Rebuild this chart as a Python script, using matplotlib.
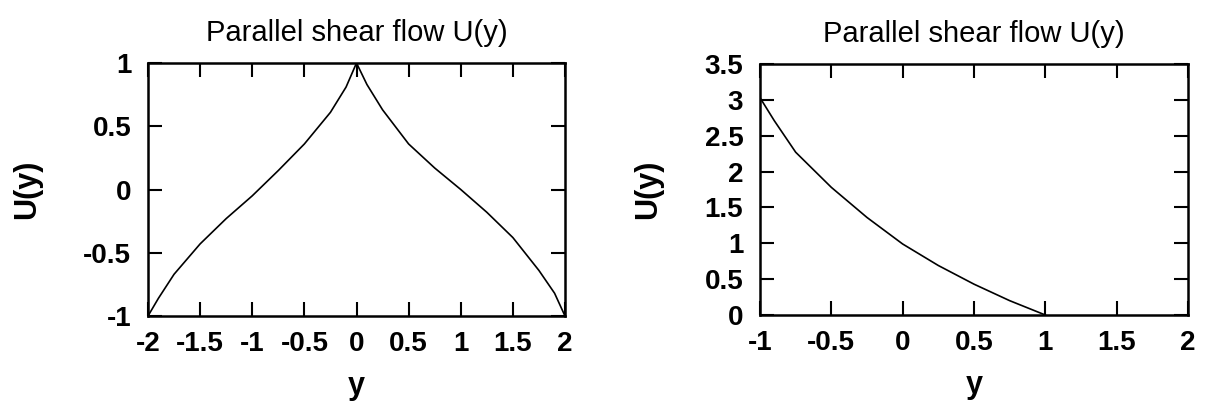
import matplotlib
matplotlib.use("Agg")
import matplotlib.pyplot as plt

plt.rcParams['font.family'] = ['Liberation Sans', 'DejaVu Sans']

# Left panel: symmetric shear profile
y_left = [-2.0, -1.9, -1.75, -1.5, -1.25, -1.0, -0.75, -0.5, -0.25, -0.1, 0.0,
          0.1, 0.25, 0.5, 0.75, 1.0, 1.25, 1.5, 1.75, 1.9, 2.0]
u_left = [-1.0, -0.86, -0.67, -0.43, -0.23, -0.05, 0.15, 0.36, 0.61, 0.81, 1.0,
          0.83, 0.63, 0.36, 0.17, 0.0, -0.18, -0.38, -0.64, -0.82, -1.0]

# Right panel: decaying profile
y_right = [-1.0, -0.9, -0.75, -0.5, -0.25, 0.0, 0.25, 0.5, 0.75, 1.0]
u_right = [3.03, 2.71, 2.27, 1.78, 1.36, 0.99, 0.69, 0.43, 0.20, 0.0]

left_xticks = [-2, -1.5, -1, -0.5, 0, 0.5, 1, 1.5, 2]
left_yticks = [-1, -0.5, 0, 0.5, 1]
right_xticks = [-1, -0.5, 0, 0.5, 1, 1.5, 2]
right_yticks = [0, 0.5, 1, 1.5, 2, 2.5, 3, 3.5]

title = "Parallel shear flow U(y)"

W, H = 1213, 408
fig = plt.figure(figsize=(W / 100, H / 100), dpi=100)


def setup(ax, xt, yt, xl, yl):
    ax.set_xlim(*xl)
    ax.set_ylim(*yl)
    ax.set_xticks(xt)
    ax.set_yticks(yt)
    ax.set_xticklabels([f"{v:g}" for v in xt], fontweight='bold', fontsize=20)
    ax.set_yticklabels([f"{v:g}" for v in yt], fontweight='bold', fontsize=20)
    ax.tick_params(direction='in', top=True, right=True, length=10, width=1.5,
                   color='black')
    ax.tick_params(axis='x', pad=11)
    ax.tick_params(axis='y', pad=12)
    for s in ax.spines.values():
        s.set_linewidth(1.8)
    ax.set_title(title, fontsize=21, pad=16)
    ax.set_xlabel('y', fontsize=22, fontweight='bold', labelpad=10)
    ax.set_ylabel('U(y)', fontsize=22, fontweight='bold', labelpad=30)


ax1 = fig.add_axes([148 / W, 1 - 316 / H, (565 - 148) / W, (316 - 63) / H])
ax1.plot(y_left, u_left, color='black', lw=1.2)
setup(ax1, left_xticks, left_yticks, (-2, 2), (-1, 1))

ax2 = fig.add_axes([760 / W, 1 - 315 / H, (1188 - 760) / W, (315 - 64) / H])
ax2.plot(y_right, u_right, color='black', lw=1.2)
setup(ax2, right_xticks, right_yticks, (-1, 2), (0, 3.5))

fig.savefig('out.png', dpi=100)
